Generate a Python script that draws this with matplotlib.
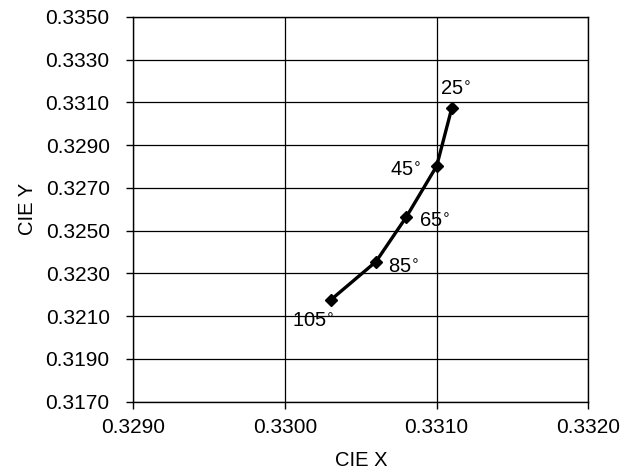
import matplotlib
matplotlib.use("Agg")
import matplotlib.pyplot as plt
from matplotlib.ticker import FormatStrFormatter

plt.rcParams['font.family'] = ['Liberation Sans', 'DejaVu Sans']
plt.rcParams['mathtext.fontset'] = 'dejavusans'

# CIE coordinates vs angle
cie_x = [0.33110, 0.33100, 0.33080, 0.33060, 0.33030]
cie_y = [0.33074, 0.32802, 0.32564, 0.32355, 0.32175]
angles = ['25', '45', '65', '85', '105']

x_ticks = [0.3290, 0.3300, 0.3310, 0.3320]
y_ticks = [0.3170, 0.3190, 0.3210, 0.3230, 0.3250, 0.3270, 0.3290, 0.3310, 0.3330, 0.3350]

fig = plt.figure(figsize=(6.34, 4.74), dpi=100)
ax = fig.add_axes([0.2103, 0.1525, 0.7177, 0.8122])

ax.plot(cie_x, cie_y, color='black', lw=2.4, marker='D', ms=6.5,
        markerfacecolor='black', zorder=3)

# label offsets (points) and alignment
offsets = [(-8.4, 8.9), (-11, -7), (8.9, -7.6), (8.9, -7.9), (-27.9, -19.2)]
haligns = ['left', 'right', 'left', 'left', 'left']
for x, y, lab, off, ha in zip(cie_x, cie_y, angles, offsets, haligns):
    ax.annotate(lab + r'$^{\circ}$', (x, y), xytext=off, textcoords='offset points',
                fontsize=14.5, ha=ha, va='baseline')

ax.set_xlim(x_ticks[0], x_ticks[-1])
ax.set_ylim(y_ticks[0], y_ticks[-1])
ax.set_xticks(x_ticks)
ax.set_yticks(y_ticks)
ax.xaxis.set_major_formatter(FormatStrFormatter('%.4f'))
ax.yaxis.set_major_formatter(FormatStrFormatter('%.4f'))
ax.grid(True, color='black', lw=0.9)
ax.set_axisbelow(True)
ax.tick_params(direction='out', length=5, width=1, labelsize=15)
ax.tick_params(axis='x', pad=7)
ax.tick_params(axis='y', pad=12)
for s in ax.spines.values():
    s.set_linewidth(1)
    s.set_color('black')

ax.set_xlabel('CIE X', fontsize=14.5, labelpad=10)
ax.set_ylabel('CIE Y', fontsize=14.5, labelpad=6)

fig.savefig('out.png', dpi=100)
